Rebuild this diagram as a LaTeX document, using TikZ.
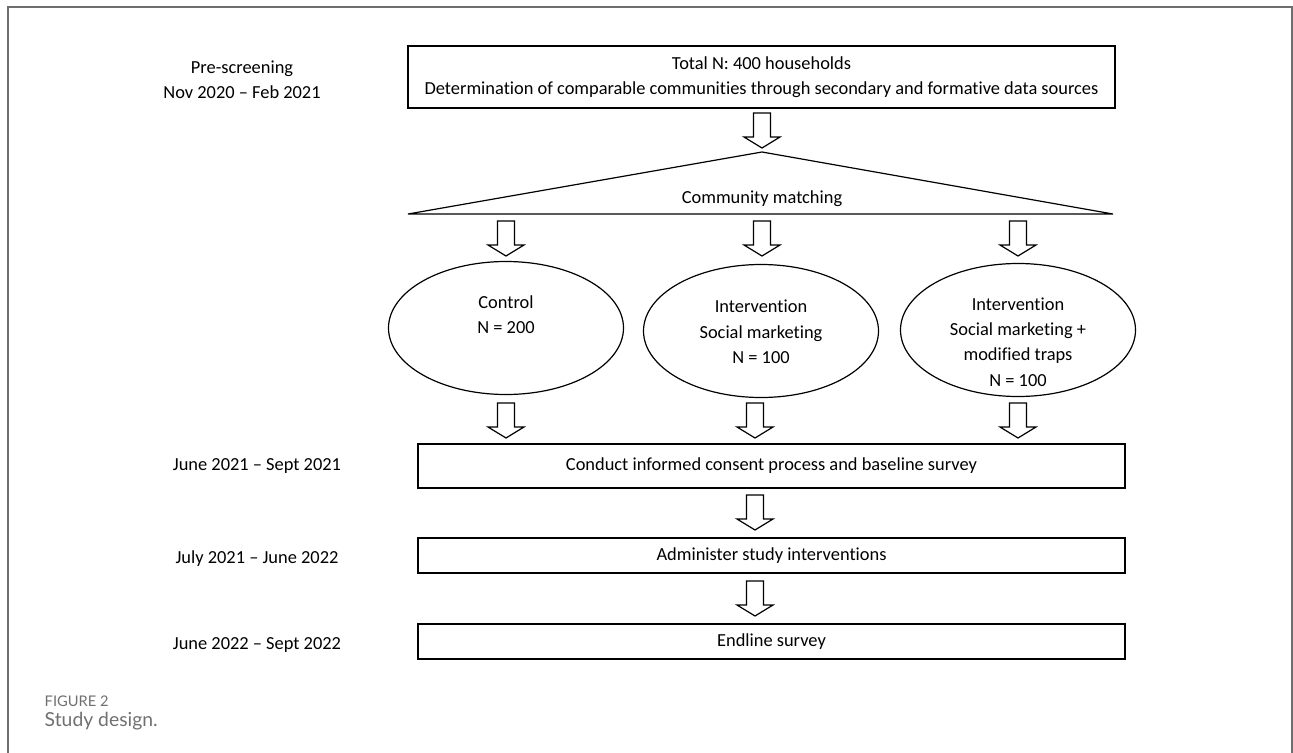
\documentclass[tikz,border=0pt]{standalone}
\usepackage{fontspec}
\setmainfont{Carlito}[Ligatures={TeX,NoCommon}]
\newfontfamily\capfont{Lato}
\usetikzlibrary{shapes.geometric}
\definecolor{framegray}{RGB}{110,110,110}
\definecolor{capgray}{RGB}{112,112,112}

\tikzset{
  stagebox/.style={draw, line width=0.9pt, minimum width=530.25pt, align=center, inner sep=0pt},
  groupell/.style={draw, ellipse, line width=0.9pt, minimum width=176.25pt, minimum height=99.75pt, inner sep=0pt},
  datelabel/.style={align=center},
  hollowarrow/.pic={
    \draw[line width=0.9pt] (-8.5,0) -- (-8.5,24) -- (-18,24) -- (0,35) -- (18,24) -- (8.5,24) -- (8.5,0) -- cycle;
  }
}

\begin{document}
\begin{tikzpicture}[x=0.75pt, y=-0.75pt, font=\fontsize{13.8}{19}\selectfont]
    % Page size and frame
    \useasboundingbox (0,0) rectangle (1293,753);
    \draw[framegray, line width=1.1pt] (8,753) -- (8,7) -- (1292,7) -- (1292,753);

    % Top box
    \node[stagebox, minimum height=46.5pt] (total) at (761.5,77) {Total N: 400 households\\Determination of comparable communities through secondary and formative data sources};
    \pic at (762,113) {hollowarrow};

    % Community matching triangle
    \coordinate (apex) at (762,152);
    \coordinate (baseL) at (408,214);
    \coordinate (baseR) at (1113,214);
    \draw[line width=0.9pt] (apex) -- (baseR) -- (baseL) -- cycle;
    \node (matching) at (762,199) {Community matching};

    % Three groups
    \foreach \xx in {506,762,1018}
        \pic at (\xx,221) {hollowarrow};
    \node[groupell] (control) at (506,328) {};
    \node[groupell] (socmark) at (761,331) {};
    \node[groupell] (socmarktraps) at (1018,330) {};
    \node[align=center] (controltxt) at (506,315) {Control\\N = 200};
    \node[align=center] (socmarktxt) at (761,332) {Intervention\\Social marketing\\N = 100};
    \node[align=center] (socmarktrapstxt) at (1018,342) {Intervention\\Social marketing +\\modified traps\\N = 100};
    \foreach \xx in {506,755,1018}
        \pic at (\xx,403) {hollowarrow};

    % Study steps
    \node[stagebox, minimum height=33pt] (baseline) at (771.5,466) {Conduct informed consent process and baseline survey};
    \pic at (755,495) {hollowarrow};
    \node[stagebox, minimum height=26.25pt] (admin) at (771.5,555.5) {Administer study interventions};
    \pic at (755,581) {hollowarrow};
    \node[stagebox, minimum height=26.25pt] (endline) at (771.5,641.5) {Endline survey};

    % Dates on the left
    \node[datelabel] (prescreen) at (242,80) {Pre-screening\\Nov 2020 -- Feb 2021};
    \node[datelabel] (date1) at (257,466) {June 2021 -- Sept 2021};
    \node[datelabel] (date2) at (257,559) {July 2021 -- June 2022};
    \node[datelabel] (date3) at (257,645) {June 2022 -- Sept 2022};

    % Caption
    \node[anchor=west, capgray, font=\capfont\fontsize{11}{13}\selectfont] (figno) at (40,701) {FIGURE 2};
    \node[anchor=west, capgray, font=\capfont\fontsize{14.5}{17}\selectfont] (figcap) at (40,721) {Study design.};
\end{tikzpicture}
\end{document}
